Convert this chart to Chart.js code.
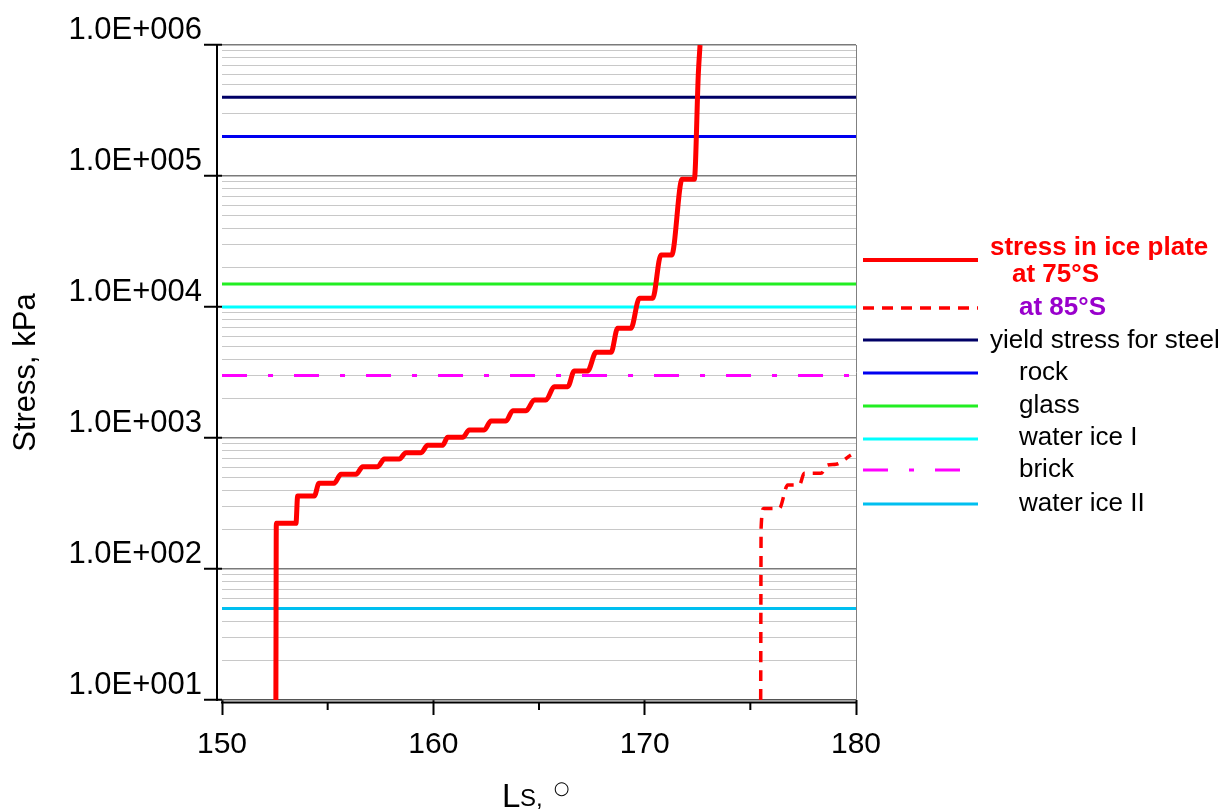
<!DOCTYPE html>
<html>
<head>
<meta charset="utf-8">
<title>Stress in ice plate</title>
<script src="https://cdn.jsdelivr.net/npm/chart.js@4.4.1/dist/chart.umd.min.js"></script>
<style>
  html, body { margin: 0; padding: 0; background: #fff; }
  #wrap { width: 1224px; height: 809px; }
</style>
</head>
<body>
<div id="wrap"><canvas id="stressChart" width="1224" height="809"></canvas></div>
<script>
// Ls (deg) / stress (kPa)
const ls75 = [152.55, 152.57, 153.50, 153.58, 154.37, 154.59, 155.30, 155.63, 156.34, 156.66,
              157.37, 157.68, 158.39, 158.71, 159.42, 159.73, 160.44, 160.68, 161.39, 161.70,
              162.41, 162.73, 163.44, 163.76, 164.39, 164.78, 165.33, 165.72, 166.36, 166.67,
              167.30, 167.70, 168.41, 168.72, 169.35, 169.75, 170.38, 170.77, 171.28, 171.77,
              172.35, 172.54, 172.62];
const stress75 = [10, 223, 223, 361, 361, 451, 451, 528, 528, 604,
                  604, 692, 692, 773, 773, 880, 880, 1012, 1012, 1151,
                  1151, 1349, 1349, 1616, 1616, 1950, 1950, 2464, 2464, 3245,
                  3245, 4508, 4508, 6875, 6875, 11650, 11650, 24950, 24950, 94400,
                  94400, 608000, 1000000];

const ls85 = [175.49, 175.51, 175.63, 176.37, 176.77, 177.32, 177.55, 178.34, 178.66, 179.05, 179.76];
const stress85 = [10, 205, 290, 290, 438, 438, 537, 537, 622, 630, 741];

const materialNames = ['yield stress for steel', 'rock', 'glass', 'water ice I', 'brick', 'water ice II'];
const materialStress = [400000, 200000, 15000, 10000, 3000, 50];
const lsRange = [150, 180];

const stressTicks = [10, 100, 1000, 10000, 100000, 1000000];
const stressTickLabels = ['1.0E+001', '1.0E+002', '1.0E+003', '1.0E+004', '1.0E+005', '1.0E+006'];
const lsTicks = [150, 155, 160, 165, 170, 175, 180];
const lsTickLabels = ['150', '', '160', '', '170', '', '180'];

// styles
const materialColors = ['#000066', '#0000f0', '#22ee22', '#00ffff', '#ff00ff', '#00bff0'];
const materialDash = [[], [], [], [], [25, 21, 5, 21], []];

Chart.defaults.font.family = "'Liberation Sans', Arial, sans-serif";
Chart.defaults.color = '#000';

// every stress grid line: decades plus 2..9 in between
const stressGrid = [];
stressTicks.forEach((d, i) => {
    stressGrid.push(d);
    if (i < stressTicks.length - 1) {
        for (let m = 2; m <= 9; m++) stressGrid.push(d * m);
    }
});

const toPoints = (xs, ys) => xs.map((v, i) => ({ x: v, y: ys[i] }));

const datasets = [
    {
        label: 'stress in ice plate at 75°S',
        data: toPoints(ls75, stress75),
        borderColor: '#ff0000',
        borderWidth: 5,
        cubicInterpolationMode: 'monotone'
    },
    {
        label: 'at 85°S',
        data: toPoints(ls85, stress85),
        borderColor: '#ff0000',
        borderWidth: 3.5,
        borderDash: [11, 8],
        cubicInterpolationMode: 'monotone'
    }
];
materialNames.forEach((name, i) => {
    datasets.push({
        label: name,
        data: toPoints(lsRange, [materialStress[i], materialStress[i]]),
        borderColor: materialColors[i],
        borderWidth: 3,
        borderDash: materialDash[i]
    });
});
datasets.forEach(ds => {
    ds.showLine = true;
    ds.pointRadius = 0;
    ds.borderCapStyle = 'butt';
    ds.borderJoinStyle = 'round';
});

// legend rows: dataset index, line y, text pieces [text, x, y]
const legendRows = [
    { ds: 0, y: 260, bold: true, color: '#ff0000', text: [['stress in ice plate', 990, 248], ['at 75°S', 1012, 275]] },
    { ds: 1, y: 308, bold: true, color: '#9900cc', text: [['at 85°S', 1019, 308]] },
    { ds: 2, y: 340, text: [[materialNames[0], 990, 341]] },
    { ds: 3, y: 373, text: [[materialNames[1], 1019, 373]] },
    { ds: 4, y: 406, text: [[materialNames[2], 1019, 406]] },
    { ds: 5, y: 439, text: [[materialNames[3], 1019, 438]] },
    { ds: 6, y: 470, text: [[materialNames[4], 1019, 470]] },
    { ds: 7, y: 504, text: [[materialNames[5], 1019, 504]] }
];

const decorations = {
    id: 'decorations',
    afterDraw(chart) {
        const { ctx, chartArea: area, scales: { x } } = chart;
        ctx.save();

        // axis lines, set a little off the plot box
        ctx.strokeStyle = '#000';
        ctx.lineWidth = 2;
        ctx.beginPath();
        ctx.moveTo(area.left - 5, area.top - 1);
        ctx.lineTo(area.left - 5, area.bottom + 1);
        ctx.moveTo(area.left - 1, area.bottom + 2.5);
        ctx.lineTo(area.right + 1, area.bottom + 2.5);
        // short x ticks
        lsTicks.forEach((v, i) => {
            if (lsTickLabels[i]) return;
            const px = x.getPixelForValue(v);
            ctx.moveTo(px, area.bottom + 2);
            ctx.lineTo(px, area.bottom + 10);
        });
        ctx.stroke();

        // legend
        legendRows.forEach(row => {
            const ds = chart.data.datasets[row.ds];
            ctx.strokeStyle = ds.borderColor;
            ctx.lineWidth = Math.min(ds.borderWidth, 4);
            ctx.setLineDash(ds.borderDash || []);
            ctx.beginPath();
            ctx.moveTo(863, row.y);
            ctx.lineTo(978, row.y);
            ctx.stroke();
            ctx.setLineDash([]);
            ctx.fillStyle = row.color || '#000';
            ctx.font = (row.bold ? 'bold ' : '') + "26px 'Liberation Sans', Arial, sans-serif";
            ctx.textAlign = 'left';
            ctx.textBaseline = 'middle';
            row.text.forEach(t => ctx.fillText(t[0], t[1], t[2]));
        });

        // x title: L with subscript S, degree circle raised
        ctx.fillStyle = '#000';
        ctx.textAlign = 'left';
        ctx.textBaseline = 'alphabetic';
        ctx.font = "33px 'Liberation Sans', Arial, sans-serif";
        ctx.fillText('L', 502, 807);
        ctx.font = "24px 'Liberation Sans', Arial, sans-serif";
        ctx.fillText('S,', 520, 806);
        ctx.font = "18px 'DejaVu Sans', sans-serif";
        ctx.textAlign = 'center';
        ctx.textBaseline = 'middle';
        ctx.fillText('○', 561.5, 789);

        ctx.restore();
    }
};

new Chart(document.getElementById('stressChart'), {
    type: 'scatter',
    data: { datasets },
    options: {
        responsive: false,
        animation: false,
        layout: { padding: { top: 45, right: 368, bottom: 0, left: 0 } },
        plugins: { legend: { display: false }, tooltip: { enabled: false } },
        scales: {
            x: {
                type: 'linear',
                min: lsRange[0],
                max: lsRange[1],
                afterBuildTicks: s => { s.ticks = lsTicks.map(v => ({ value: v })); },
                afterFit: s => { s.height = 109; },
                ticks: {
                    autoSkip: false,
                    maxRotation: 0,
                    padding: 12,
                    font: { size: 30 },
                    callback: (v, i) => lsTickLabels[i]
                },
                grid: {
                    color: c => (c.tick && c.tick.value === lsRange[1]) ? '#808080' : 'rgba(0,0,0,0)',
                    lineWidth: 1,
                    tickColor: c => (c.tick && lsTickLabels[lsTicks.indexOf(c.tick.value)]) ? '#000' : 'rgba(0,0,0,0)',
                    tickLength: 15,
                    tickWidth: 2
                },
                border: { display: false }
            },
            y: {
                type: 'logarithmic',
                min: stressTicks[0],
                max: stressTicks[stressTicks.length - 1],
                afterBuildTicks: s => { s.ticks = stressGrid.map(v => ({ value: v })); },
                afterFit: s => { s.width = 222; },
                title: {
                    display: true,
                    text: 'Stress, kPa',
                    font: { size: 31 },
                    color: '#000',
                    padding: { top: 8, bottom: 0 }
                },
                ticks: {
                    autoSkip: false,
                    padding: 2,
                    labelOffset: -15,
                    font: { size: 31 },
                    callback: v => {
                        const i = stressTicks.indexOf(v);
                        return i >= 0 ? stressTickLabels[i] : '';
                    }
                },
                grid: {
                    color: c => {
                        const v = c.tick && c.tick.value;
                        if (v === stressTicks[0]) return '#555';
                        return stressTicks.includes(v) ? '#7a7a7a' : '#c8c8c8';
                    },
                    lineWidth: c => (c.tick && stressTicks.includes(c.tick.value)) ? 1.5 : 1,
                    tickColor: c => (c.tick && stressTicks.includes(c.tick.value)) ? '#000' : 'rgba(0,0,0,0)',
                    tickLength: 18,
                    tickWidth: 2
                },
                border: { display: false }
            }
        }
    },
    plugins: [decorations]
});
</script>
</body>
</html>
